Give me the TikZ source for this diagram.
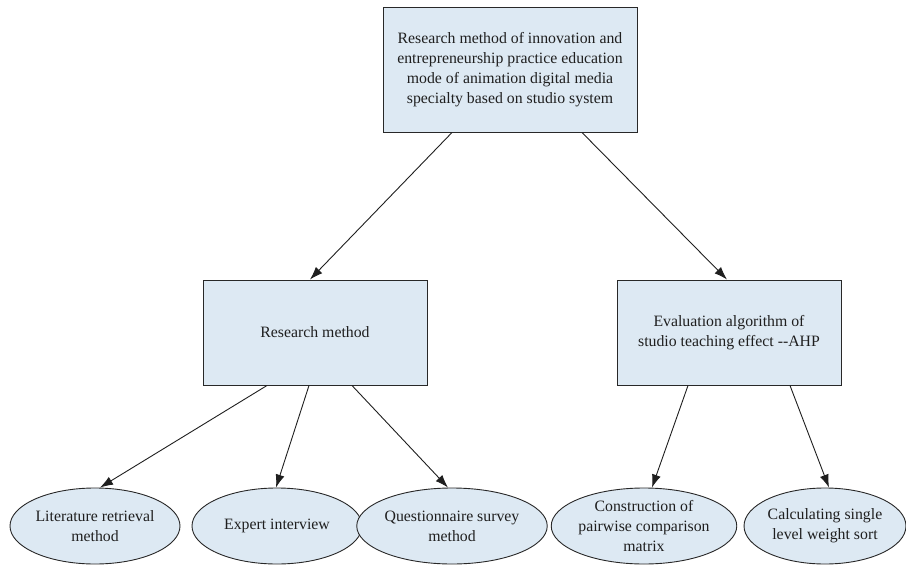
\documentclass[tikz,border=0pt]{standalone}
\usepackage{fontspec}
\setmainfont{Liberation Serif}
\usetikzlibrary{arrows.meta,shapes.geometric}
\definecolor{boxfill}{RGB}{221,233,243}
\definecolor{boxline}{RGB}{40,40,40}
\begin{document}
\begin{tikzpicture}[x=1pt,y=-1pt,
  every node/.style={font=\fontsize{15.8}{19.8}\selectfont, align=center, text=black!88},
  rbox/.style={draw=boxline, line width=1pt, fill=boxfill, rectangle, inner sep=0pt},
  oval/.style={draw=boxline, line width=0.9pt, fill=boxfill, ellipse, inner sep=0pt, minimum height=76pt},
  arr/.style={draw=black!88, line width=0.9pt, -{Latex[length=13pt,width=9pt]}}]
\useasboundingbox (0,0) rectangle (906,565);
\node[rbox, minimum width=254pt, minimum height=125pt] (top) at (510,69.5)
  {Research method of innovation and\\entrepreneurship practice education\\mode of animation digital media\\specialty based on studio system};
\node[rbox, minimum width=224pt, minimum height=105pt] (rm) at (315,332.5) {Research method};
\node[rbox, minimum width=224pt, minimum height=105pt] (ev) at (729,332.5)
  {Evaluation algorithm of\\studio teaching effect -{}-AHP};
\node[oval, minimum width=170pt] (lit) at (95,526) {Literature retrieval\\method};
\node[oval, minimum width=170pt] (exp) at (277,526) {Expert interview};
\node[oval, minimum width=167pt] (que) at (452,526) {Questionnaire survey\\method};
\node[oval, minimum width=168pt] (con) at (644,526) {Construction of\\pairwise comparison\\matrix};
\node[oval, minimum width=160pt] (cal) at (825,526) {Calculating single\\level weight sort};
\draw[arr] ([xshift=-58pt]top.south) -- ([xshift=-5pt]rm.north);
\draw[arr] ([xshift=72pt]top.south) -- ([xshift=-2pt]ev.north);
\draw[arr] ([xshift=-48pt]rm.south) -- ([xshift=5pt]lit.north);
\draw[arr] ([xshift=-6pt]rm.south) -- ([xshift=-1pt]exp.north);
\draw[arr] ([xshift=37pt]rm.south) -- ([xshift=-4pt]que.north);
\draw[arr] ([xshift=-41pt]ev.south) -- ([xshift=8pt]con.north);
\draw[arr] ([xshift=61pt]ev.south) -- ([xshift=4pt]cal.north);
\end{tikzpicture}
\end{document}
